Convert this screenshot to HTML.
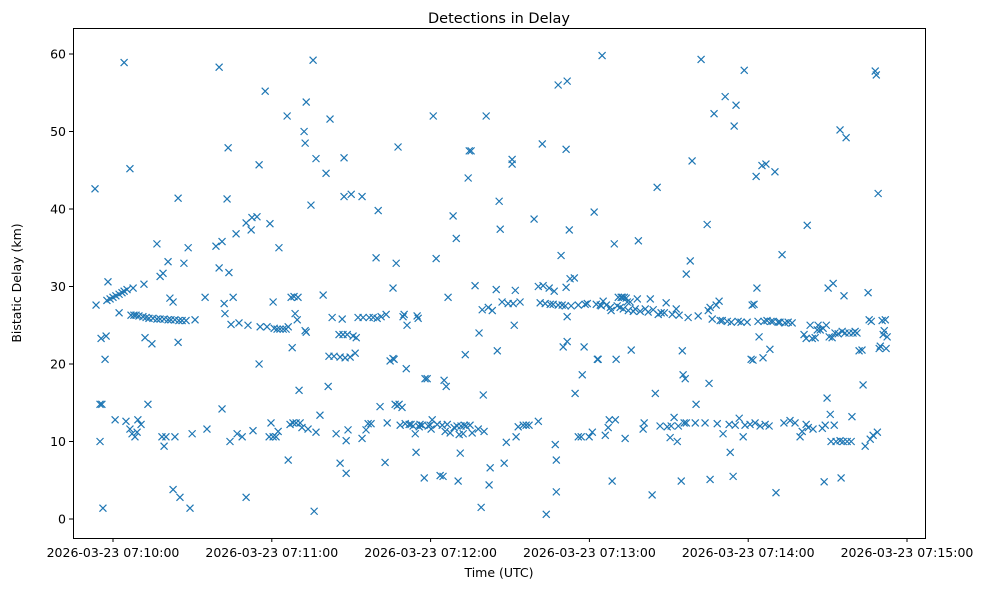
<!DOCTYPE html>
<html><head><meta charset="utf-8"><style>
html,body{margin:0;padding:0;background:#fff;}
svg{display:block;font-family:"DejaVu Sans","Liberation Sans",sans-serif;}
</style></head><body>
<svg id="chart" width="987" height="590" viewBox="0 0 987 590" xmlns="http://www.w3.org/2000/svg">
<rect x="0" y="0" width="987" height="590" fill="#fff"/>
<text x="499" y="23" text-anchor="middle" font-size="14.5">Detections in Delay</text>
<text x="499" y="577" text-anchor="middle" font-size="12.5">Time (UTC)</text>
<text x="21" y="283" text-anchor="middle" font-size="12.5" transform="rotate(-90 21 283)">Bistatic Delay (km)</text>
<g id="ticks"></g>
<g id="marks"></g>
<rect x="73.5" y="28.5" width="852" height="510" fill="none" stroke="#000" stroke-width="1"/>
</svg>
<script>
// seconds relative to 2026-03-23 07:10:00 UTC
const times = [-6.8,-6.4,-4.9,-4.2,-4.9,-4.5,-3.8,-3.0,-2.6,-1.9,-2.3,-1.1,0,0.8,1.1,2.3,2.3,3.4,4.2,4.2,4.9,5.3,6.4,6.4,6.8,7.2,7.6,7.9,8.3,8.7,9.1,9.4,9.8,10.6,11.3,11.7,12.1,12.5,13.2,13.6,14.7,15.1,16.6,16.6,17.8,17.8,
18.5,18.9,19.3,19.3,20.0,20.8,20.8,21.5,21.9,22.7,22.7,23.4,23.4,24.6,24.6,24.9,25.3,26.1,26.8,27.6,28.4,29.1,29.9,31.0,34.8,35.5,38.9,40.1,40.1,41.2,41.2,42.0,42.3,43.1,43.5,43.8,44.2,44.6,45.4,46.5,46.9,47.6,
48.8,50.3,50.3,51.0,52.2,52.5,52.9,54.4,55.2,55.2,55.6,57.5,58.2,59.0,59.3,59.7,60.5,60.5,60.9,61.6,62.0,62.4,62.7,63.1,64.3,65.4,65.8,66.2,66.2,66.9,67.3,67.7,68.0,68.4,68.8,69.2,69.6,69.9,70.3,70.7,71.4,72.2,72.6,73.0,72.6,73.0,73.7,74.8,75.6,76.0,76.7,76.7,78.2,79.4,80.5,81.3,81.6,82.0,
82.8,83.5,84.3,85.4,85.8,85.8,86.6,86.9,87.3,87.3,87.7,88.1,88.1,88.5,88.8,89.6,90.0,90.7,91.5,91.9,92.6,94.1,94.1,94.5,95.6,96.4,96.8,97.5,98.3,99.4,99.8,100.2,100.9,101.3,102.8,103.2,103.6,104.7,105.8,105.8,106.2,106.6,107.0,107.4,107.7,108.1,108.5,109.2,109.6,110.0,110.4,110.8,111.1,111.9,112.6,113.4,114.2,114.5,114.9,115.3,115.7,116.0,116.8,117.6,117.9,118.7,119.1,119.8,120.2,120.6,121.0,122.1,122.5,
123.6,124.4,124.7,125.1,125.5,125.9,126.3,126.6,127.4,128.5,128.9,129.7,130.0,130.4,130.8,131.2,131.5,132.3,132.7,133.1,133.4,134.2,134.6,134.9,135.3,135.7,136.8,138.0,138.3,139.1,139.5,139.9,140.2,141.0,141.8,142.1,142.5,143.3,144.8,145.2,145.9,146.3,147.0,147.8,148.6,149.3,150.8,150.8,151.2,151.6,152.0,152.3,153.1,153.8,155.0,156.1,157.2,
159.1,160.7,160.7,161.4,162.2,162.5,163.3,163.7,164.8,165.2,166.3,166.7,167.1,167.5,167.5,168.2,168.2,169.3,169.7,170.1,170.9,171.2,171.2,171.6,171.6,171.6,172.4,172.7,173.1,174.3,174.6,175.8,175.8,176.9,177.3,178.0,178.4,179.2,179.9,181.1,181.8,182.6,183.0,183.3,184.1,184.5,184.8,185.2,186.0,186.4,187.1,187.5,187.9,188.2,188.6,189.4,189.8,190.1,190.5,190.9,191.6,192.0,192.4,192.8,193.2,193.5,193.9,194.3,194.7,195.4,195.8,196.6,197.3,198.1,198.5,199.2,
200.3,200.7,201.1,202.2,203.0,203.7,204.1,204.9,205.6,206.0,206.7,207.1,208.3,209.0,209.4,210.5,210.9,211.3,212.0,212.8,213.2,213.6,213.9,214.7,215.1,215.4,215.8,216.2,216.6,216.6,217.3,218.1,218.8,220.0,220.3,221.1,222.2,223.7,224.5,224.9,225.2,225.6,225.6,226.4,227.1,227.9,228.3,229.0,229.4,230.2,230.5,231.3,232.1,232.8,233.2,233.6,234.3,234.7,235.1,235.4,236.2,236.6,237.3,238.1,238.5,238.8,239.6,240.7,241.1,241.5,241.8,242.2,242.6,243.0,243.3,243.7,244.1,244.5,
245.2,245.6,246.0,246.4,246.7,247.1,247.9,248.2,248.6,249.4,250.1,250.5,251.3,252.0,252.8,253.5,253.9,255.1,255.8,256.6,257.7,259.6,260.4,261.1,261.9,261.9,262.3,262.7,263.4,264.2,264.5,265.3,266.1,266.4,267.2,268.0,268.3,268.7,269.1,269.5,269.8,270.2,270.6,271.0,271.3,271.7,272.1,272.5,272.8,273.2,274.0,274.7,274.7,275.1,275.5,275.9,276.2,276.6,277.0,277.4,278.1,278.9,279.2,279.6,280.4,281.1,281.9,283.0,283.4,284.2,285.3,285.7,286.1,286.5,287.2,288.0,288.4,288.8,289.1,289.5,289.9,290.6,291.0,291.4,291.8,292.1,292.5];
const delays = [42.6,27.6,14.8,14.8,10,23.3,1.4,20.6,23.6,30.6,28.2,28.4,28.6,12.8,28.8,26.6,29,29.2,58.9,29.4,12.6,29.6,45.2,11.6,26.3,11,29.8,26.3,10.6,26.3,11.2,12.8,26.2,12.2,26.1,30.3,23.4,26,14.8,25.9,22.6,25.9,35.5,25.8,31.3,25.8,
10.6,31.7,9.4,25.8,10.6,33.2,25.7,28.5,25.7,3.8,28,25.7,10.6,41.4,22.8,25.6,2.8,25.6,33,25.6,35,1.4,11,25.7,28.6,11.6,35.2,58.3,32.4,14.2,35.8,27.8,26.5,41.3,47.9,31.8,10,25.1,28.6,36.8,11,25.3,
10.6,2.8,38.2,25,37.3,38.9,11.4,39,45.7,20,24.8,55.2,24.8,10.6,38.1,12.4,10.6,28,24.6,10.6,24.5,11.3,35,24.5,24.5,24.5,52,7.6,24.8,12.2,28.6,22.1,12.4,28.7,26.5,12.4,25.7,28.6,16.6,12.4,11.8,50,48.5,53.8,24.3,24.1,11.6,40.5,59.2,1,46.5,11.2,13.4,28.9,44.6,17.1,21,51.6,
26,21,11,23.8,20.9,7.2,25.8,23.8,41.6,46.6,20.8,5.9,10.1,23.8,11.5,20.9,41.9,23.6,21.4,23.4,26,41.6,10.4,26,11.5,12.3,26,12.3,26,33.7,25.9,39.8,14.5,26.1,7.3,26.4,12.4,20.4,29.8,20.7,20.6,14.8,33,14.6,48,14.8,12.1,14.4,26.1,26.4,12.3,19.4,25,12.2,12.2,12,11,8.6,26.2,25.9,11.9,12.2,12.1,5.3,18.1,18.1,12,12.1,11.6,12.8,52,33.6,12.2,
5.6,12.1,5.5,17.9,11.3,17.1,12.2,28.6,11.1,39.1,11.8,36.2,12,4.9,10.9,8.5,12,11,12.1,21.2,12,44,47.5,12.1,47.5,11.1,30.1,11.6,24,1.5,27,16,11.3,52,27.3,4.4,6.6,26.9,29.6,21.7,41,37.4,28,7.2,9.9,27.8,46.4,45.8,27.8,25,29.5,10.6,11.9,28,12.1,12.1,12.1,
38.7,12.6,30,27.9,48.4,30.1,27.8,0.6,29.8,27.7,27.7,29.4,9.6,3.5,7.6,56,27.6,34,27.6,22.2,27.5,47.7,29.9,56.5,26.1,22.9,37.3,31,27.5,31.1,16.2,27.6,10.6,10.6,18.6,22.2,27.7,27.8,10.6,11.2,39.6,27.7,20.6,20.6,27.6,27.5,59.8,28.1,10.8,27.6,11.8,12.8,27.3,26.9,4.9,35.5,12.8,20.6,27.5,28.6,27.3,28.6,28.6,27.1,28.6,10.4,28.5,28,26.9,28,21.8,26.8,27.1,28.4,35.9,26.8,
11.6,12.4,27.1,26.7,28.4,3.1,27,16.2,42.8,26.4,12,26.6,26.6,27.9,11.9,10.5,12,26.4,13.1,27.1,10,12,26.3,4.9,21.7,18.6,12.4,18.1,12.4,31.6,26,33.3,46.2,12.4,14.8,26.2,59.3,12.4,38,26.9,17.5,5.1,27.3,25.8,52.3,27.6,12.3,28.1,25.6,25.6,11,54.5,25.5,12.2,8.6,25.4,5.5,50.7,12.1,53.4,25.5,13,25.4,10.6,57.9,12.1,25.4,12.2,20.6,27.6,20.5,27.7,12.4,44.2,29.8,25.5,23.5,12,
45.6,20.8,25.5,12.2,45.8,25.6,12,21.9,25.5,25.5,44.8,3.4,25.4,25.4,34.1,12.4,25.3,25.4,12.7,25.3,12.4,10.6,11.3,23.8,12.2,23.3,37.9,11.8,25,23.3,11.6,23.4,24.4,25,24.4,11.7,24.6,4.8,12.1,25,15.6,29.8,23.5,13.5,10,23.4,30.4,12.1,24,10,23.9,50.2,10.1,5.3,24.2,10,28.8,24,49.2,10,24,10,13.2,24,24.2,24,21.7,21.8,17.3,9.4,29.2,25.7,10.3,25.5,10.8,57.8,57.3,11.2,42,22,22.3,25.6,23.8,24.3,25.7,22,23.5];
const yTicks = [0,10,20,30,40,50,60];
const xTickSecs = [0,60,120,180,240,300];
const xTickLabels = ["2026-03-23 07:10:00","2026-03-23 07:11:00","2026-03-23 07:12:00","2026-03-23 07:13:00","2026-03-23 07:14:00","2026-03-23 07:15:00"];

const NS = "http://www.w3.org/2000/svg";
function xScale(s){ return 113 + s * (158.8/60); }
function yScale(v){ return 519 - v * 7.75; }
const ticks = document.getElementById('ticks');
const marks = document.getElementById('marks');
function mk(tag, attrs, parent){
  const e = document.createElementNS(NS, tag);
  for (const k in attrs) e.setAttribute(k, attrs[k]);
  parent.appendChild(e);
  return e;
}
yTicks.forEach(v => {
  const y = yScale(v);
  const l = mk('line', {x1:69, x2:73, y1:y, y2:y, stroke:'#000'}, ticks);
  
  
  const t = mk('text', {x:66, y:y+4.5, 'text-anchor':'end', 'font-size':12.5}, ticks);
  t.textContent = String(v);
  
  
});
xTickSecs.forEach((s, i) => {
  const x = xScale(s);
  const l = mk('line', {x1:x, x2:x, y1:538, y2:542, stroke:'#000'}, ticks);
  
  
  const t = mk('text', {x:x, y:557, 'text-anchor':'middle', 'font-size':12.5}, ticks);
  t.textContent = xTickLabels[i];
  
  
});
const r = 3.5;
for (let i = 0; i < times.length && i < delays.length; i++) {
  const cx = xScale(times[i]), cy = yScale(delays[i]);
  const p = mk('path', {d:`M${cx-r},${cy-r}L${cx+r},${cy+r}M${cx-r},${cy+r}L${cx+r},${cy-r}`, stroke:'#1f77b4', 'stroke-width':1.2, fill:'none'}, marks);
  
  
}
</script>
</body></html>
